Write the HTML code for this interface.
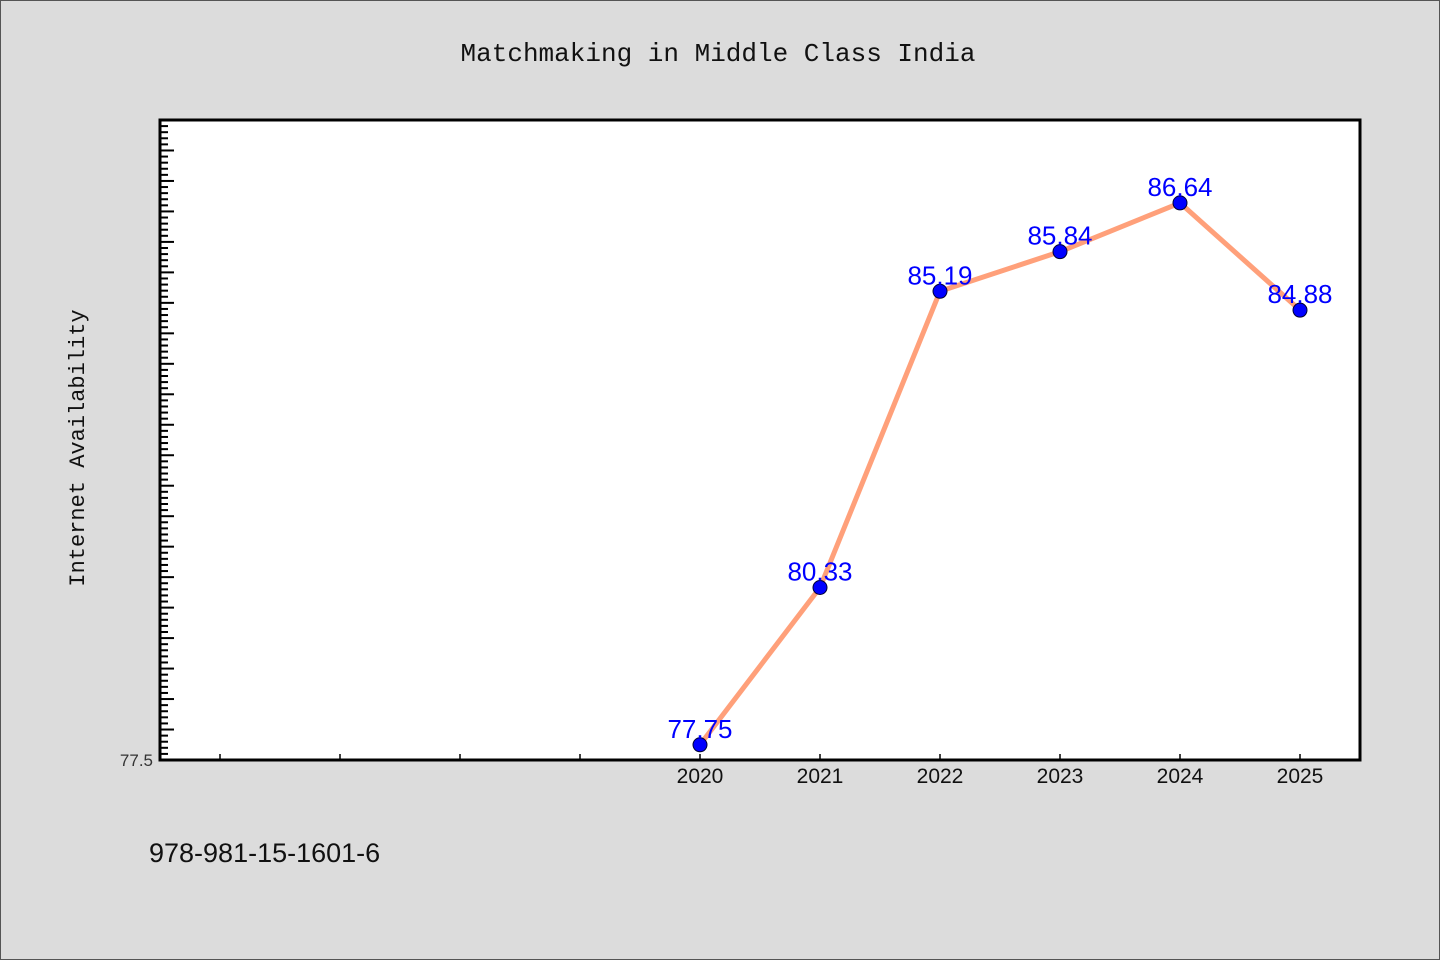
<!DOCTYPE html>
<html><head><meta charset="utf-8"><style>
body{margin:0;background:#dcdcdc}
svg{display:block;font-family:"WenQuanYi Zen Hei","Liberation Sans",sans-serif}
</style></head><body>
<svg id="chart" width="1440" height="960" xmlns="http://www.w3.org/2000/svg">
<rect x="0.5" y="0.5" width="1439" height="959" fill="#dcdcdc" stroke="#555"/>
<text x="718" y="61" text-anchor="middle" font-size="26" font-family="WenQuanYi Zen Hei, Liberation Mono, monospace" fill="#111">Matchmaking in Middle Class India</text>
<rect x="160" y="120" width="1200" height="640" fill="#fff"/>
<g id="ticks"></g>
<text transform="translate(84,448) rotate(-90)" text-anchor="middle" font-size="22" font-family="WenQuanYi Zen Hei, Liberation Mono, monospace" fill="#111">Internet Availability</text>
<g id="marks"></g>
<rect x="160" y="120" width="1200" height="640" fill="none" stroke="#000" stroke-width="3"/>
<text x="149" y="862" font-size="27" fill="#111">978-981-15-1601-6</text>
</svg>
<script>
const years=[2020,2021,2022,2023,2024,2025];
const values=[77.75,80.33,85.19,85.84,86.64,84.88];
const valueLabels=["77.75","80.33","85.19","85.84","86.64","84.88"];
const yMin=77.5,yMax=88,xMin=2015.5,xMax=2025.5;
const NS="http://www.w3.org/2000/svg";
function X(v){return 160+(v-xMin)/(xMax-xMin)*1200;}
function Y(v){return 760-(v-yMin)/(yMax-yMin)*640;}
function mk(t,a,p){const e=document.createElementNS(NS,t);for(const k in a)e.setAttribute(k,a[k]);p.appendChild(e);return e;}
const tg=document.getElementById('ticks');
for(let i=1;i<=104;i++){const v=yMin+i*0.1;const y=Y(v);const major=i%5===0;
 const l=mk('line',{x1:160,x2:160+(major?14:8),y1:y,y2:y,stroke:'#000','stroke-width':2},tg);
 
 }
const yl=mk('text',{x:153,y:766,'text-anchor':'end','font-size':17,fill:'#333'},tg);


yl.textContent='77.5';
for(let yr=2016;yr<=2025;yr++){const x=X(yr);
 const l=mk('line',{x1:x,x2:x,y1:760,y2:754,stroke:'#000','stroke-width':1.5},tg);
 
 }
years.forEach(yr=>{const t=mk('text',{x:X(yr),y:783,'text-anchor':'middle','font-size':21,fill:'#111'},tg);
 
 
 t.textContent=yr;});
const mg=document.getElementById('marks');
const pl=mk('polyline',{points:years.map((y,i)=>X(y)+','+Y(values[i])).join(' '),fill:'none',stroke:'#FFA07A','stroke-width':5,'stroke-linejoin':'round'},mg);


years.forEach((yr,i)=>{
 const c=mk('circle',{cx:X(yr),cy:Y(values[i]),r:7,fill:'#0000ff',stroke:'#000033','stroke-width':1},mg);
 
 
 const t=mk('text',{x:X(yr),y:Y(values[i])-7,'text-anchor':'middle','font-size':26,fill:'#0000ff'},mg);
 
 
 t.textContent=valueLabels[i];
});
</script>
</body></html>
